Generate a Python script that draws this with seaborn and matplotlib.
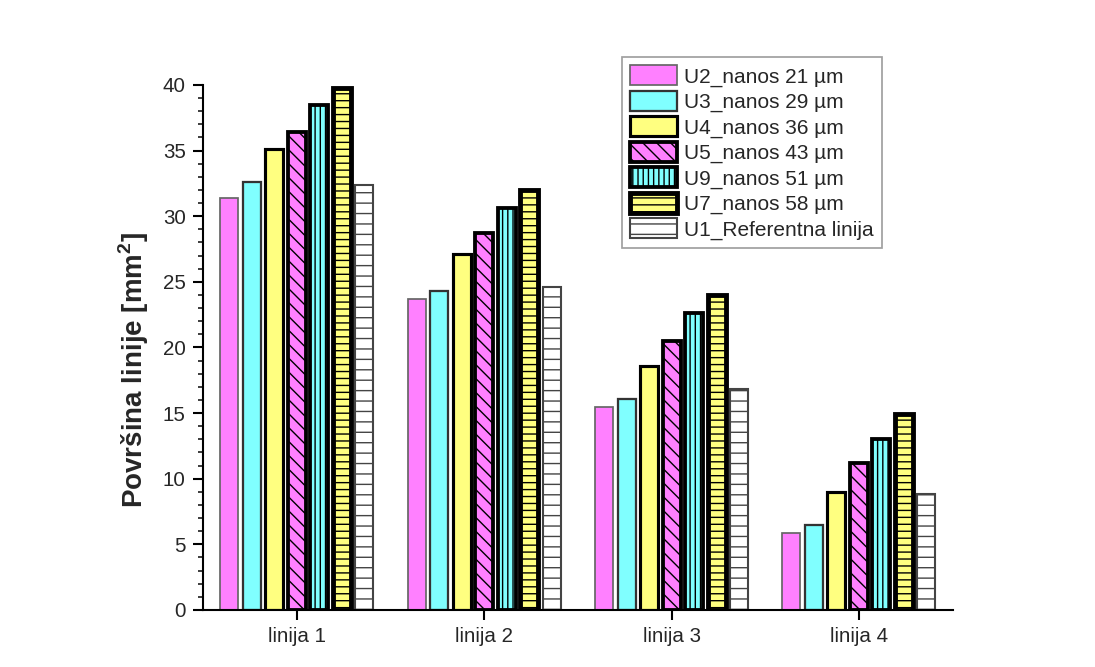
import matplotlib
matplotlib.use("Agg")
import matplotlib.pyplot as plt
import seaborn as sns
import pandas as pd
from matplotlib.ticker import MultipleLocator

categories = ["linija 1", "linija 2", "linija 3", "linija 4"]
series = ["U2_nanos 21 µm", "U3_nanos 29 µm", "U4_nanos 36 µm", "U5_nanos 43 µm",
          "U9_nanos 51 µm", "U7_nanos 58 µm", "U1_Referentna linija"]
u2 = [31.4, 23.7, 15.5, 5.9]
u3 = [32.6, 24.3, 16.1, 6.5]
u4 = [35.1, 27.1, 18.6, 9.0]
u5 = [36.4, 28.7, 20.5, 11.2]
u9 = [38.5, 30.6, 22.6, 13.0]
u7 = [39.8, 32.0, 24.0, 14.9]
u1 = [32.4, 24.6, 16.8, 8.8]
values = [u2, u3, u4, u5, u9, u7, u1]

fills = ["#FF80FF", "#80FFFF", "#FFFF80", "#FF80FF", "#80FFFF", "#FFFF80", "#FFFFFF"]
edges = ["#666666", "#333333", "#000000", "#000000", "#000000", "#000000", "#444444"]
lws = [1.0, 1.3, 1.8, 2.2, 2.2, 2.8, 1.2]
hatches = [None, None, None, "\\\\\\", "||||", "---", "--"]

rows = []
for s, vals in zip(series, values):
    for c, v in zip(categories, vals):
        rows.append({"kat": c, "serija": s, "val": v})
df = pd.DataFrame(rows)

sns.set_style("ticks")
plt.rcParams["font.family"] = ["Liberation Sans", "DejaVu Sans"]
plt.rcParams["hatch.linewidth"] = 0.8
plt.rcParams["mathtext.fontset"] = "custom"
plt.rcParams["mathtext.rm"] = "Liberation Sans:bold"
plt.rcParams["mathtext.bf"] = "Liberation Sans:bold"

fig = plt.figure(figsize=(8.76, 5.336), dpi=125)
ax = fig.add_axes([0.1854, 0.0855, 0.6846, 0.7871])

sns.barplot(data=df, x="kat", y="val", hue="serija", order=categories,
            hue_order=series, palette=dict(zip(series, fills)),
            width=0.84, gap=0.2, ax=ax, legend=False, saturation=1)

for cont, ec, lw, h in zip(ax.containers, edges, lws, hatches):
    for p in cont.patches:
        p.set_edgecolor(ec)
        p.set_linewidth(lw)
        if h:
            p.set_hatch(h)

ax.set_xlim(-0.5, 3.5)
ax.set_ylim(0, 40)
ax.yaxis.set_major_locator(MultipleLocator(5))
ax.yaxis.set_minor_locator(MultipleLocator(1))
ax.set_xlabel("")
ax.set_ylabel("Površina linije [mm$^{2}$]", fontsize=16, fontweight="bold")
ax.yaxis.set_label_coords(-0.070, 0.457)
ax.tick_params(axis="both", which="major", direction="out", length=6,
               width=1.2, labelsize=11.8, color="black", pad=4)
ax.tick_params(axis="y", which="minor", direction="out", length=3, width=1.0)
for sp in ["left", "bottom"]:
    ax.spines[sp].set_linewidth(1.2)
    ax.spines[sp].set_color("black")
sns.despine(ax=ax)

handles = [c.patches[0] for c in ax.containers]
leg = ax.legend(handles, series, loc="upper left", bbox_to_anchor=(0.5587, 1.053),
                fontsize=12, frameon=True, fancybox=False, edgecolor="#888888",
                handlelength=2.25, handleheight=1.1, labelspacing=0.2,
                handletextpad=0.35, borderpad=0.4, borderaxespad=0)
leg.get_frame().set_linewidth(1.0)

fig.savefig("out.png", dpi=125, facecolor="white")
